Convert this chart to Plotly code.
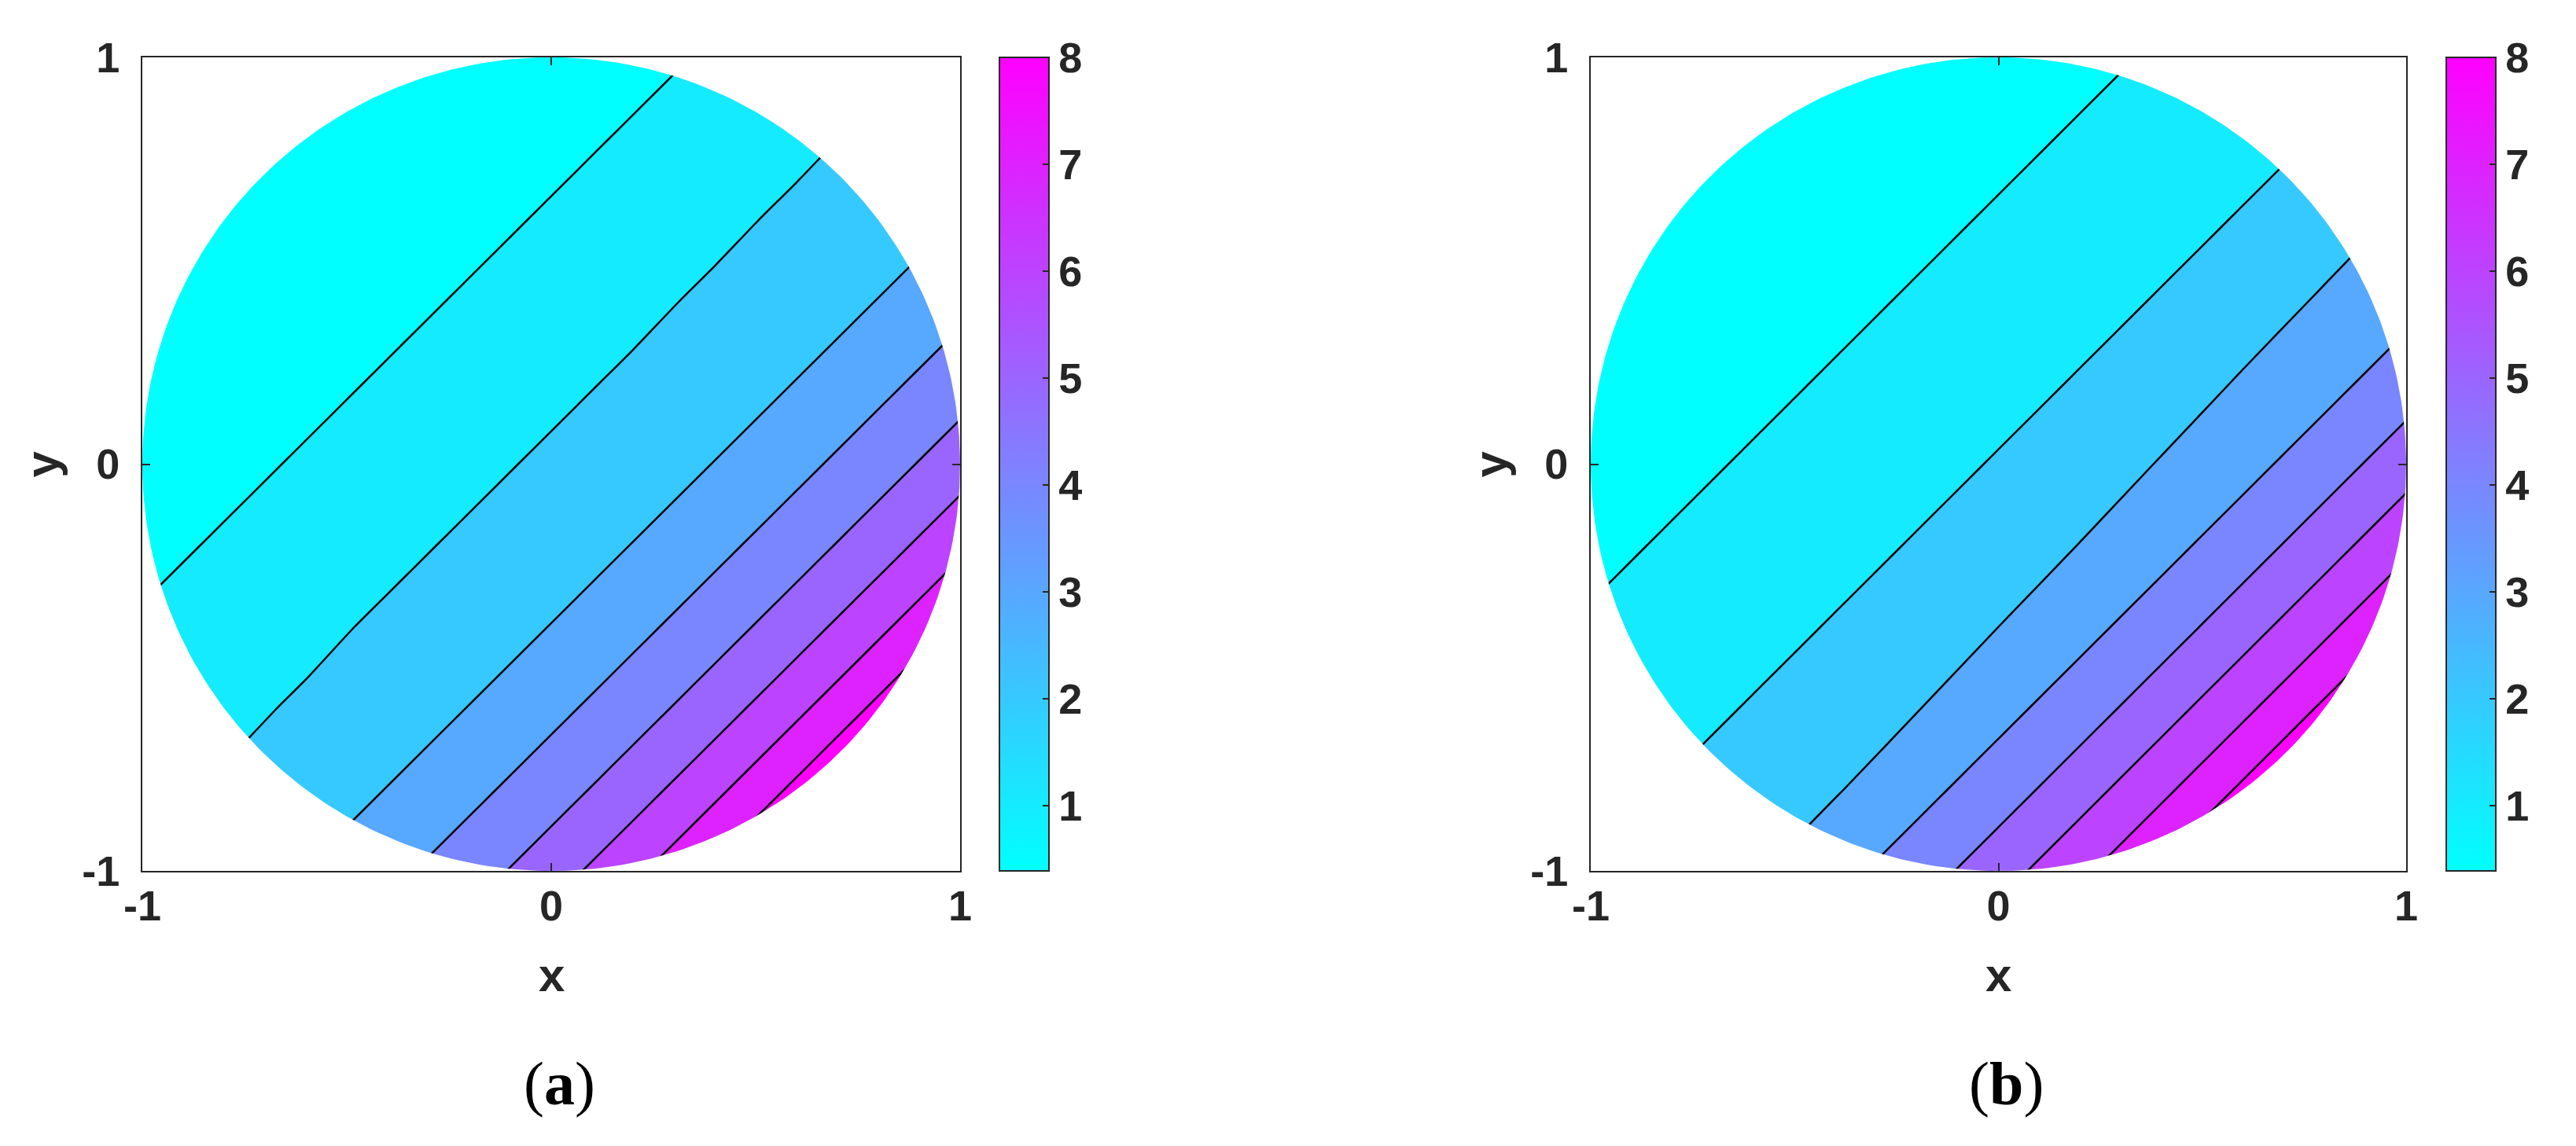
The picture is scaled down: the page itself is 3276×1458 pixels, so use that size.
import numpy as np
import plotly.graph_objects as go

W, H = 3276, 1458

# grid nodes of the sampled field
x_grid = [-1.0, -0.8, -0.6, -0.4, -0.2, 0.0, 0.2, 0.4, 0.6, 0.8, 1.0]
y_grid = [-1.0, -0.8, -0.6, -0.4, -0.2, 0.0, 0.2, 0.4, 0.6, 0.8, 1.0]

# field values; rows run from y=-1 (first) to y=1 (last)
z_a = [
    [2.15, 2.58, 3.02, 3.73, 4.56, 5.53, 6.76, 8.22, 9.60, 11.0, 12.4],
    [1.78, 2.10, 2.58, 3.02, 3.73, 4.56, 5.53, 6.76, 8.22, 9.60, 11.0],
    [1.44, 1.78, 2.12, 2.58, 3.02, 3.73, 4.56, 5.53, 6.76, 8.22, 9.60],
    [1.05, 1.44, 1.78, 2.15, 2.58, 3.02, 3.73, 4.56, 5.53, 6.76, 8.22],
    [0.88, 1.05, 1.44, 1.78, 2.15, 2.58, 3.02, 3.73, 4.56, 5.53, 6.76],
    [0.72, 0.88, 1.05, 1.44, 1.78, 2.15, 2.58, 3.02, 3.73, 4.56, 5.53],
    [0.56, 0.72, 0.88, 1.05, 1.44, 1.78, 2.15, 2.58, 3.02, 3.73, 4.56],
    [0.40, 0.56, 0.72, 0.88, 1.05, 1.44, 1.78, 2.17, 2.58, 3.02, 3.73],
    [0.24, 0.40, 0.56, 0.72, 0.88, 1.05, 1.44, 1.78, 2.19, 2.58, 3.02],
    [0.08, 0.24, 0.40, 0.56, 0.72, 0.88, 1.05, 1.44, 1.78, 2.21, 2.58],
    [-0.08, 0.08, 0.24, 0.40, 0.56, 0.72, 0.88, 1.05, 1.44, 1.78, 2.15],
]

# field values
z_b = [
    [2.06, 2.47, 2.90, 3.70, 4.50, 5.58, 6.76, 8.17, 9.50, 10.9, 12.3],
    [1.73, 2.06, 2.48, 2.92, 3.70, 4.50, 5.58, 6.76, 8.17, 9.50, 10.9],
    [1.41, 1.73, 2.06, 2.50, 2.96, 3.70, 4.50, 5.58, 6.76, 8.17, 9.50],
    [1.05, 1.41, 1.73, 2.06, 2.52, 3.00, 3.70, 4.50, 5.58, 6.76, 8.17],
    [0.89, 1.05, 1.41, 1.73, 2.06, 2.53, 3.02, 3.70, 4.50, 5.58, 6.76],
    [0.72, 0.89, 1.05, 1.41, 1.73, 2.06, 2.55, 3.05, 3.70, 4.50, 5.58],
    [0.56, 0.72, 0.89, 1.05, 1.41, 1.73, 2.06, 2.57, 3.08, 3.70, 4.50],
    [0.40, 0.56, 0.72, 0.89, 1.05, 1.41, 1.73, 2.06, 2.60, 3.10, 3.70],
    [0.24, 0.40, 0.56, 0.72, 0.89, 1.05, 1.41, 1.73, 2.06, 2.62, 3.12],
    [0.08, 0.24, 0.40, 0.56, 0.72, 0.89, 1.05, 1.41, 1.73, 2.06, 2.64],
    [-0.08, 0.08, 0.24, 0.40, 0.56, 0.72, 0.89, 1.05, 1.41, 1.73, 2.06],
]

levels = [1, 2, 3, 4, 5, 6, 7, 8]
c_min, c_max = 0.39, 8.0
cbar_ticks = [1, 2, 3, 4, 5, 6, 7, 8]
axis_ticks = [-1, 0, 1]
axis_ticktext = ["-1", "0", "1"]
panel_labels = ["a", "b"]


def cool(t):
    t = min(max(t, 0.0), 1.0)
    return f"rgb({round(255 * t)},{round(255 * (1 - t))},255)"


# matlab-like band colours: each band takes the colour of its lower level
band_vals = [c_min] + levels
n = len(band_vals) - 1
fill_scale = [[k / n, cool((v - c_min) / (c_max - c_min))] for k, v in enumerate(band_vals)]
cbar_scale = [[t, cool(t)] for t in np.linspace(0, 1, 11)]

# white mask outside the unit circle
th = np.linspace(np.radians(225), np.radians(225) - 2 * np.pi, 361)
mask_x = [-1.3, 1.3, 1.3, -1.3, -1.3] + list(np.cos(th)) + [-1.3]
mask_y = [-1.3, -1.3, 1.3, 1.3, -1.3] + list(np.sin(th)) + [-1.3]

FONT = "Liberation Sans"
INK = "#262626"
tick_font = dict(family=FONT, size=54, color=INK, weight="bold")
label_font = dict(family=FONT, size=60, color=INK, weight="bold")

# pixel boxes of the two panels (left, right) and shared top/bottom
boxes = [(173, 1213), (2015, 3052)]
cbars = [1263, 3103]
TOP, BOT = 65, 1100


def px(x):
    return x / W


def py(y):
    return 1 - y / H


fig = go.Figure()
annotations = []

for p, (z, (bl, br), cb, lab) in enumerate(zip([z_a, z_b], boxes, cbars, panel_labels)):
    xa = "x" if p == 0 else "x2"
    ya = "y" if p == 0 else "y2"
    fig.add_trace(
        go.Contour(
            x=x_grid, y=y_grid, z=z, xaxis=xa, yaxis=ya,
            contours=dict(start=levels[0], end=levels[-1], size=1, coloring="fill"),
            colorscale=fill_scale, showscale=False,
            line=dict(color="black", width=2.5, smoothing=0.6),
            hoverinfo="skip",
        )
    )
    fig.add_trace(
        go.Scatter(
            x=mask_x, y=mask_y, xaxis=xa, yaxis=ya, mode="lines",
            fill="toself", fillcolor="white", line=dict(width=0, color="white"),
            hoverinfo="skip", showlegend=False,
        )
    )
    # continuous colorbar like matlab's
    fig.add_trace(
        go.Scatter(
            x=[0, 0], y=[0, 0], xaxis=xa, yaxis=ya, mode="markers",
            marker=dict(
                size=0.1, opacity=0, color=[c_min, c_max], cmin=c_min, cmax=c_max,
                colorscale=cbar_scale, showscale=True,
                colorbar=dict(
                    x=px(cb), xanchor="left", y=py((TOP + BOT) / 2), yanchor="middle",
                    len=BOT - TOP, lenmode="pixels", thickness=63, thicknessmode="pixels",
                    xpad=0, ypad=0, outlinewidth=2, outlinecolor=INK,
                    ticks="inside", ticklen=9, tickwidth=2, tickcolor=INK,
                    tickvals=cbar_ticks, tickfont=tick_font,
                ),
            ),
            hoverinfo="skip", showlegend=False,
        )
    )
    axis_common = dict(
        range=[-1, 1], showgrid=False, zeroline=False, showline=True,
        linecolor=INK, linewidth=2, mirror="ticks", ticks="inside", ticklen=10,
        tickwidth=2, tickcolor=INK, tickmode="array", tickvals=axis_ticks,
        ticktext=axis_ticktext, tickfont=tick_font,
    )
    fig.layout[("xaxis" if p == 0 else "xaxis2")] = dict(
        domain=[px(bl), px(br)], anchor=ya, ticklabelstandoff=-4, **axis_common
    )
    fig.layout[("yaxis" if p == 0 else "yaxis2")] = dict(
        domain=[py(BOT), py(TOP)], anchor=xa, ticklabelstandoff=16, **axis_common
    )
    cx = (bl + br) / 2
    annotations += [
        dict(x=px(cx), y=py(1232), xref="paper", yref="paper", text="x",
             xanchor="center", yanchor="middle", showarrow=False, font=label_font),
        dict(x=px(bl - 128), y=py((TOP + BOT) / 2), xref="paper", yref="paper", text="y",
             xanchor="center", yanchor="middle", textangle=-90, showarrow=False,
             font=label_font),
        dict(x=px(cx + 10), y=py(1370), xref="paper", yref="paper", text=f"(<b>{lab}</b>)",
             xanchor="center", yanchor="middle", showarrow=False,
             font=dict(family="Liberation Serif", size=78, color="black")),
    ]

fig.update_layout(
    width=W, height=H, margin=dict(l=0, r=0, t=0, b=0, autoexpand=False),
    paper_bgcolor="white", plot_bgcolor="white", showlegend=False,
    annotations=annotations,
)

fig.write_html("out.html")
